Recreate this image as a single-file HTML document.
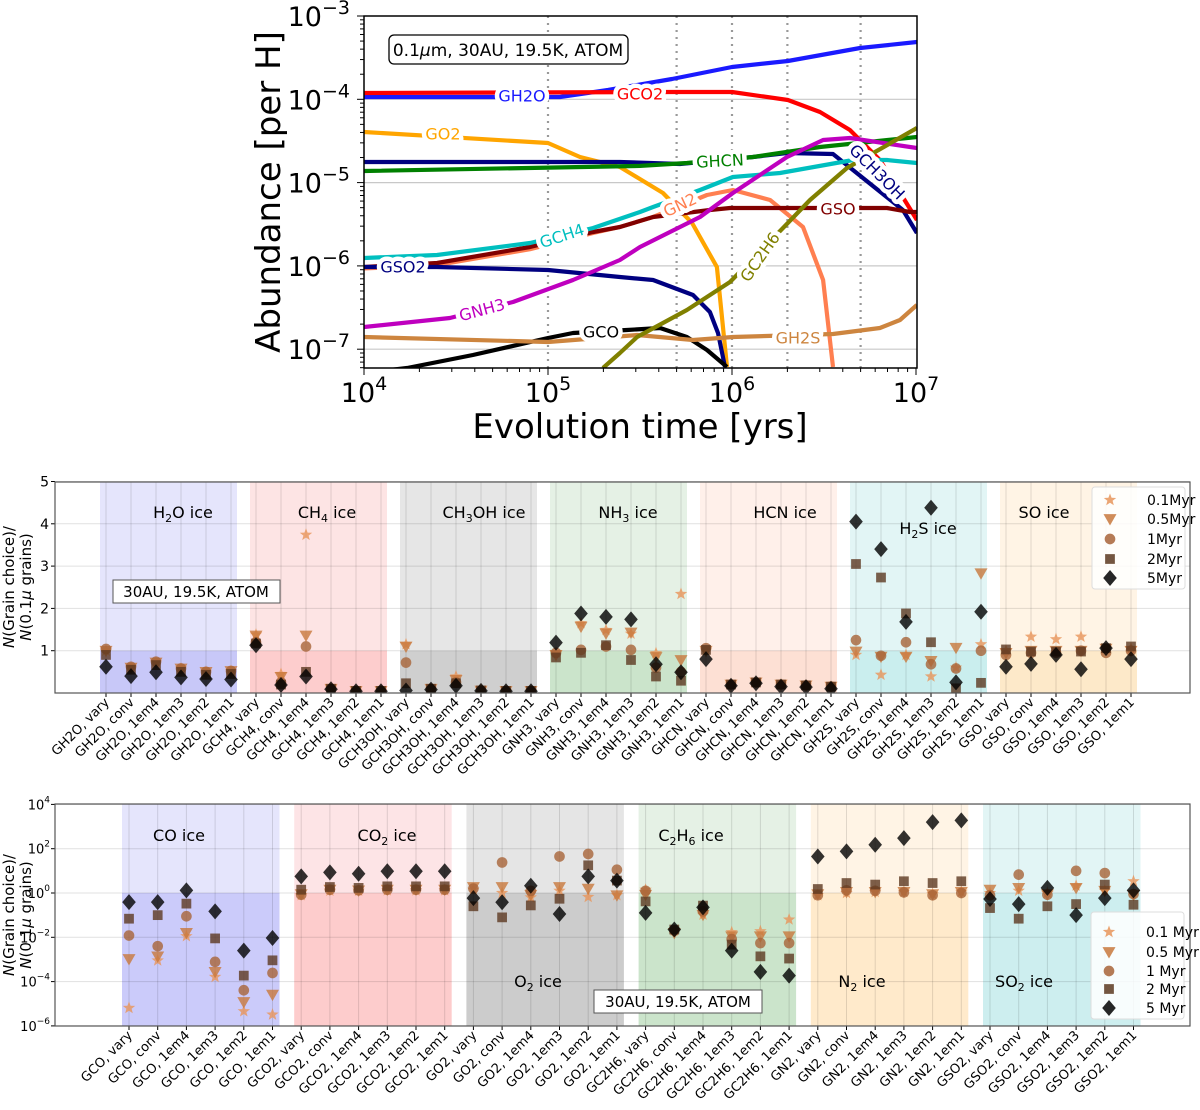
<!DOCTYPE html>
<html><head><meta charset="utf-8">
<style>
html,body{margin:0;padding:0;background:#fff;}
svg{display:block;font-family:"DejaVu Sans","Liberation Sans",sans-serif;}
</style></head>
<body>
<svg id="fig" width="1200" height="1110" viewBox="0 0 1200 1110" xmlns="http://www.w3.org/2000/svg">
<defs>
<clipPath id="topclip"><rect x="364" y="16" width="553" height="352"/></clipPath>
<clipPath id="midclip"><rect x="55" y="482" width="1135" height="211"/></clipPath>
<clipPath id="botclip"><rect x="55" y="804" width="1135" height="222"/></clipPath>
</defs>
<g id="topPanel"></g>
<g id="midPanel"></g>
<g id="botPanel"></g>
</svg>
<script>
// ================= TOP PANEL DATA (log10 time, log10 abundance) =================
const gh2oT=[4,5.065,5.326,5.674,6.0,6.304,6.696,7.005];
const gh2oA=[-3.972,-3.972,-3.888,-3.756,-3.612,-3.54,-3.384,-3.312];
const gco2T=[4,5.674,6.0,6.304,6.478,6.641,6.804,7.005];
const gco2A=[-3.924,-3.912,-3.912,-4.008,-4.152,-4.369,-4.729,-5.449];
const go2T=[4,5.0,5.174,5.391,5.625,5.783,5.918,5.973];
const go2A=[-4.393,-4.525,-4.693,-4.813,-5.125,-5.485,-6.013,-7.214];
const gch3ohT=[4,5.391,5.717,6.114,6.299,6.549,6.929,7.005];
const gch3ohA=[-4.753,-4.753,-4.777,-4.693,-4.645,-4.657,-5.329,-5.605];
const ghcnT=[4,5.5,5.755,6.114,6.478,7.005];
const ghcnA=[-4.861,-4.8,-4.765,-4.693,-4.573,-4.453];
const gn2T=[4,4.397,4.902,5.245,5.391,5.571,5.864,6.005,6.207,6.386,6.495,6.549];
const gn2A=[-6.03,-5.99,-5.8,-5.605,-5.533,-5.413,-5.149,-5.089,-5.209,-5.533,-6.169,-7.214];
const gsoT=[4,4.397,4.902,5.245,5.391,5.571,5.88,5.989,6.842,6.967,7.005];
const gsoA=[-6.013,-5.965,-5.773,-5.593,-5.533,-5.413,-5.329,-5.305,-5.305,-5.353,-5.353];
const gch4T=[4,4.397,4.902,5.245,5.5,5.571,5.826,6.005,6.261,6.658,6.842,7.005];
const gch4A=[-5.905,-5.869,-5.725,-5.545,-5.353,-5.293,-5.089,-4.933,-4.885,-4.729,-4.729,-4.765];
const gso2T=[4,4.397,5.0,5.391,5.571,5.788,5.88,5.924,5.962];
const gso2A=[-6.013,-6.013,-6.049,-6.133,-6.169,-6.349,-6.553,-6.805,-7.214];
const gnh3T=[4,4.467,4.81,5.136,5.391,5.5,5.826,6.005,6.299,6.495,6.641,7.005];
const gnh3A=[-6.733,-6.625,-6.433,-6.169,-5.929,-5.773,-5.413,-5.125,-4.693,-4.489,-4.465,-4.585];
const gcoT=[4,4.234,4.592,5.0,5.136,5.429,5.609,5.755,5.864,5.973];
const gcoA=[-7.286,-7.226,-7.07,-6.865,-6.805,-6.769,-6.745,-6.853,-7.01,-7.214];
const gh2sT=[4,5.0,5.484,5.788,6.005,6.549,6.804,6.913,7.005];
const gh2sA=[-6.853,-6.913,-6.829,-6.889,-6.853,-6.817,-6.745,-6.649,-6.469];
const gc2h6T=[5.299,5.391,5.484,5.755,5.989,6.277,6.424,6.625,7.005];
const gc2h6A=[-7.226,-7.046,-6.853,-6.529,-6.193,-5.545,-5.209,-4.825,-4.345];
const topSeriesNames=["GH2O","GCO2","GO2","GCH3OH","GHCN","GN2","GSO","GCH4","GSO2","GNH3","GCO","GH2S","GC2H6"];
const topSeriesT=[gh2oT,gco2T,go2T,gch3ohT,ghcnT,gn2T,gsoT,gch4T,gso2T,gnh3T,gcoT,gh2sT,gc2h6T];
const topSeriesA=[gh2oA,gco2A,go2A,gch3ohA,ghcnA,gn2A,gsoA,gch4A,gso2A,gnh3A,gcoA,gh2sA,gc2h6A];
const topColors=["#1a1aff","#ff0000","#ffa500","#000080","#008000","#ff7f50","#800000","#00bfbf","#000080","#bf00bf","#000000","#cd853f","#808000"];
const eventTimes=[1e5,5e5,1e6,2e6,5e6];
const topXTicks=[4,5,6,7];
const topYTicks=[-3,-4,-5,-6,-7];

// ================= MIDDLE PANEL DATA =================
const midSpecies=["GH2O","GCH4","GCH3OH","GNH3","GHCN","GH2S","GSO"];
const suffixes=["vary","conv","1em4","1em3","1em2","1em1"];
const mid01=[1.0,0.6,0.72,0.58,0.5,0.52, 1.38,0.45,3.74,0.12,0.05,0.05, 1.15,0.1,0.39,0.08,0.05,0.05, 0.95,1.65,1.49,1.4,0.94,2.34, 1.0,0.2,0.25,0.2,0.18,0.15, 0.9,0.43,0.9,0.39,0.6,1.15, 1.0,1.33,1.27,1.33,1.05,1.05];
const mid05=[1.0,0.6,0.72,0.58,0.5,0.52, 1.36,0.38,1.36,0.1,0.05,0.05, 1.1,0.1,0.31,0.06,0.05,0.05, 0.9,1.57,1.41,1.43,0.85,0.78, 1.0,0.2,0.25,0.2,0.18,0.15, 0.98,0.86,0.86,0.76,1.07,2.83, 0.95,1.0,1.0,1.0,1.05,1.0];
const mid1=[1.04,0.62,0.74,0.58,0.5,0.52, 1.2,0.25,1.1,0.1,0.05,0.05, 0.72,0.1,0.25,0.06,0.05,0.05, 0.95,1.02,1.1,1.02,0.6,0.5, 1.06,0.2,0.25,0.2,0.18,0.15, 1.25,0.88,1.2,0.68,0.58,1.0, 0.9,0.95,0.95,1.0,0.95,1.0];
const mid2=[0.9,0.55,0.66,0.5,0.43,0.45, 1.17,0.2,0.5,0.1,0.05,0.05, 0.23,0.1,0.23,0.06,0.05,0.05, 0.84,0.95,1.13,0.78,0.39,0.29, 1.02,0.2,0.25,0.2,0.18,0.15, 3.05,2.73,1.88,1.2,0.11,0.24, 1.03,0.98,0.98,0.98,1.06,1.1];
const mid5=[0.62,0.4,0.49,0.37,0.33,0.32, 1.13,0.19,0.39,0.09,0.04,0.04, 0.06,0.08,0.17,0.05,0.04,0.04, 1.19,1.88,1.8,1.74,0.68,0.49, 0.8,0.17,0.23,0.15,0.14,0.1, 4.05,3.4,1.68,4.38,0.25,1.92, 0.62,0.69,0.9,0.56,1.06,0.8];
const midYTicks=[1,2,3,4,5];

// ================= BOTTOM PANEL DATA (log10 ratio) =================
const botSpecies=["GCO","GCO2","GO2","GC2H6","GN2","GSO2"];
const bot01=[-5.19,-3.05,-1.95,-3.79,-5.34,-5.49, -0.1,0.1,0.1,0.12,0.12,0.12, 0.15,0.0,-0.2,0.1,-0.18,-0.1, 0.15,-1.7,-0.98,-1.77,-1.73,-1.2, -0.1,0.0,0.05,0.05,-0.05,0.05, 0.0,0.1,0.0,0.33,0.1,0.53];
const bot05=[-2.98,-2.86,-1.8,-3.56,-4.92,-4.59, -0.05,0.15,0.12,0.15,0.15,0.15, 0.27,0.27,-0.08,0.27,0.2,-0.1, -0.08,-1.8,-0.98,-1.95,-1.95,-1.95, -0.05,0.05,0.05,0.05,-0.05,0.05, 0.15,0.23,-0.05,0.23,0.1,-0.08];
const bot1=[-1.92,-2.4,-1.05,-3.11,-4.39,-3.61, -0.08,0.15,0.12,0.15,0.15,0.15, 0.2,1.38,0.1,1.65,1.76,1.05, 0.1,-1.7,-0.83,-2.08,-2.26,-2.26, -0.1,0.12,0.1,0.03,-0.1,0.0, -0.1,0.83,-0.08,1.0,0.9,-0.05];
const bot2=[-1.16,-1.0,-0.48,-2.05,-3.73,-3.04, 0.15,0.27,0.23,0.3,0.3,0.3, -0.6,-1.1,-0.56,-0.26,1.25,0.56, -0.38,-1.65,-0.57,-2.33,-2.86,-2.96, 0.18,0.45,0.38,0.53,0.45,0.53, -0.68,-1.16,-0.6,-0.5,0.38,-0.53];
const bot5=[-0.41,-0.41,0.12,-0.83,-2.6,-2.03, 0.75,0.93,0.87,0.98,0.98,0.98, -0.23,-0.42,0.33,-0.95,0.75,0.56, -0.9,-1.65,-0.65,-2.6,-3.56,-3.73, 1.65,1.88,2.18,2.48,3.2,3.28, -0.27,-0.5,0.23,-1.0,-0.23,0.12];
const botYTicks=[-6,-4,-2,0,2,4];

const NS="http://www.w3.org/2000/svg";
function mk(tag,attrs,parent){const e=document.createElementNS(NS,tag);for(const k in attrs)e.setAttribute(k,attrs[k]);if(parent)parent.appendChild(e);return e;}

// ================= TOP PANEL =================
const topG=document.getElementById('topPanel');
const tX=lt=>364+(lt-4)*184;
const tY=la=>16+(-3-la)*83.3;
topYTicks.forEach(v=>{if(v<-3){const g=mk('line',{x1:364,x2:917,y1:tY(v),y2:tY(v),stroke:'#c8c8c8','stroke-width':1.2},topG);

}});
eventTimes.forEach(t=>{const l=mk('line',{x1:tX(Math.log10(t)),x2:tX(Math.log10(t)),y1:16,y2:368,stroke:'#999','stroke-width':2.2,'stroke-dasharray':'2,5'},topG);

});
const tclip=mk('g',{'clip-path':'url(#topclip)'},topG);
topSeriesNames.forEach((nm,k)=>{
  const T=topSeriesT[k],A=topSeriesA[k];
  const d=T.map((t,i)=>(i?'L':'M')+tX(t).toFixed(1)+','+tY(A[i]).toFixed(1)).join(' ');
  const p=mk('path',{d:d,fill:'none',stroke:topColors[k],'stroke-width':4.2,'stroke-linejoin':'round'},tclip);
  
  
});
const topLabels=[["GH2O",522,96,0,"#1a1aff"],["GCO2",640,94,0,"#ff0000"],["GO2",443,134,0,"#ffa500"],["GHCN",720,161,-3,"#008000"],["GCH4",562,236,-18,"#00bfbf"],["GN2",680,205,-25,"#ff7f50"],["GSO",838,209,0,"#800000"],["GCH3OH",877,172,45,"#000080"],["GSO2",403,267,0,"#000080"],["GNH3",482,310,-15,"#bf00bf"],["GCO",601,332,0,"#000"],["GC2H6",760,257,-55,"#808000"],["GH2S",798,338,0,"#cd853f"]];
topLabels.forEach(l=>{
  const t=mk('text',{x:l[1],y:l[2],'text-anchor':'middle','dominant-baseline':'central','font-size':16,fill:l[4],stroke:'#fff','stroke-width':9,'paint-order':'stroke','stroke-linejoin':'round',transform:`rotate(${l[3]} ${l[1]} ${l[2]})`},topG);
  t.textContent=l[0];
  
  
});
const tf=mk('rect',{x:364,y:16,width:553,height:352,fill:'none',stroke:'#000','stroke-width':1.5},topG);


for(let dec=4;dec<7;dec++){for(let m=1;m<10;m++){const x=tX(dec+Math.log10(m));const len=m===1?7:4;
mk('line',{x1:x,x2:x,y1:368,y2:368+len,stroke:'#000','stroke-width':1},topG);}}
mk('line',{x1:tX(7),x2:tX(7),y1:368,y2:375,stroke:'#000','stroke-width':1},topG);
for(let dec=-8;dec<-3;dec++){for(let m=1;m<10;m++){const v=dec+Math.log10(m);if(v<-7.23||v>-3)continue;const y=tY(v);const len=m===1?7:4;
mk('line',{x1:364-len,x2:364,y1:y,y2:y,stroke:'#000','stroke-width':1},topG);}}
mk('line',{x1:357,x2:364,y1:tY(-3),y2:tY(-3),stroke:'#000','stroke-width':1},topG);
topXTicks.forEach(v=>{const t=mk('text',{x:tX(v),y:402,'text-anchor':'middle','font-size':27},topG);
t.innerHTML='10<tspan dy="-12" font-size="19">'+v+'</tspan>';

});
topYTicks.forEach(v=>{const t=mk('text',{x:350,y:tY(v)+10,'text-anchor':'end','font-size':27},topG);
t.innerHTML='10<tspan dy="-12" font-size="19">\u2212'+(-v)+'</tspan>';

});
const xt=mk('text',{x:640,y:438,'text-anchor':'middle','font-size':34},topG);xt.textContent='Evolution time [yrs]';


const yt=mk('text',{x:280,y:192,'text-anchor':'middle','font-size':34,transform:'rotate(-90 280 192)'},topG);yt.textContent='Abundance [per H]';


const bx=mk('rect',{x:389,y:35,width:239,height:29,rx:5,fill:'#fff',stroke:'#000','stroke-width':1.3},topG);


const bt=mk('text',{x:508,y:56,'text-anchor':'middle','font-size':17},topG);bt.innerHTML='0.1<tspan font-style="italic">μ</tspan>m, 30AU, 19.5K, ATOM';



// ================= MARKERS =================
const mColors=["#e8955a","#c8783c","#a86438","#5c3820","#000000"];
function markerPath(kind,x,y,s){
  if(kind===0){let d='';for(let i=0;i<10;i++){const r=i%2?s*0.42:s;const a=-Math.PI/2+i*Math.PI/5;d+=(i?'L':'M')+(x+r*Math.cos(a)).toFixed(1)+','+(y+r*Math.sin(a)).toFixed(1);}return d+'Z';}
  if(kind===1)return `M${x-s},${y-s*0.75}L${x+s},${y-s*0.75}L${x},${y+s}Z`;
  if(kind===2)return `M${x-s*0.82},${y}a${s*0.82},${s*0.82} 0 1,0 ${s*1.64},0a${s*0.82},${s*0.82} 0 1,0 ${-s*1.64},0Z`;
  if(kind===3)return `M${x-s*0.75},${y-s*0.75}h${s*1.5}v${s*1.5}h${-s*1.5}Z`;
  return `M${x},${y-s}L${x+s*0.85},${y}L${x},${y+s}L${x-s*0.85},${y}Z`;
}
const SUB=n=>'<tspan dy="4" font-size="11">'+n+'</tspan><tspan dy="-4">';

// ================= MIDDLE PANEL =================
const midG=document.getElementById('midPanel');
const mX=i=>106+25*i;
const mY=v=>693-v*42.3;
const midBands=[["#e5e5fc","#c8c8f8"],["#fde4e4","#fdcdcd"],["#e6e6e6","#cfcfcf"],["#e5f1e5","#cbe4cb"],["#fff0ea","#fde0d4"],["#e2f5f5","#caeeee"],["#fff4e5","#fde9c9"]];
midSpecies.forEach((s,g)=>{
  const x0=mX(g*6)-6,x1=mX(g*6+5)+6;
  const a=mk('rect',{x:x0,y:482,width:x1-x0,height:mY(1)-482,fill:midBands[g][0]},midG);
  
  
  const b=mk('rect',{x:x0,y:mY(1),width:x1-x0,height:693-mY(1),fill:midBands[g][1]},midG);
  
  
});
midYTicks.forEach(v=>{mk('line',{x1:55,x2:1190,y1:mY(v),y2:mY(v),stroke:'#000','stroke-opacity':0.12,'stroke-width':1},midG);
const t=mk('text',{x:49,y:mY(v)+5,'text-anchor':'end','font-size':14},midG);t.textContent=v;


mk('line',{x1:51,x2:55,y1:mY(v),y2:mY(v),stroke:'#000'},midG);});
const midCats=[];midSpecies.forEach(s=>suffixes.forEach(f=>midCats.push(s+', '+f)));
midCats.forEach((c,i)=>{mk('line',{x1:mX(i),x2:mX(i),y1:482,y2:693,stroke:'#000','stroke-opacity':0.12},midG);
mk('line',{x1:mX(i),x2:mX(i),y1:693,y2:697,stroke:'#000'},midG);
const t=mk('text',{x:mX(i)+4,y:703,'text-anchor':'end','font-size':13,transform:`rotate(-45 ${mX(i)+4} 703)`},midG);t.textContent=c;

});
const midGroupLabels=[['H'+SUB(2)+'O ice</tspan>',183,512],['CH'+SUB(4)+' ice</tspan>',327,512],['CH'+SUB(3)+'OH ice</tspan>',484,512],['NH'+SUB(3)+' ice</tspan>',628,512],['HCN ice',785,512],['H'+SUB(2)+'S ice</tspan>',928,528],['SO ice',1044,512]];
midGroupLabels.forEach(l=>{const t=mk('text',{x:l[1],y:l[2]+6,'text-anchor':'middle','font-size':16},midG);t.innerHTML=l[0];

});
const midSeries=[mid01,mid05,mid1,mid2,mid5];
const mclip=mk('g',{'clip-path':'url(#midclip)'},midG);
midSeries.forEach((arr,k)=>arr.forEach((v,i)=>{
  const p=mk('path',{d:markerPath(k,mX(i),mY(v),k===4?8:6.5),fill:mColors[k],'fill-opacity':0.8},mclip);
  
  
}));
const mfr=mk('rect',{x:55,y:482,width:1135,height:211,fill:'none',stroke:'#555','stroke-width':1.2},midG);


const mb=mk('rect',{x:113,y:580,width:167,height:23,fill:'#fff',stroke:'#555'},midG);


const mbt=mk('text',{x:196,y:597,'text-anchor':'middle','font-size':15},midG);mbt.textContent='30AU, 19.5K, ATOM';


function yLabel(parent,cy){
  const t1=mk('text',{x:14,y:cy,'text-anchor':'middle','font-size':15,transform:`rotate(-90 14 ${cy})`},parent);
  t1.innerHTML='<tspan font-style="italic">N</tspan>(Grain choice)/';
  
  
  const t2=mk('text',{x:31,y:cy,'text-anchor':'middle','font-size':15,transform:`rotate(-90 31 ${cy})`},parent);
  t2.innerHTML='<tspan font-style="italic">N</tspan>(0.1<tspan font-style="italic">μ</tspan> grains)';
  
  
}
yLabel(midG,587);
function legend(parent,x,y,w,h,names,ys){
  const r=mk('rect',{x:x,y:y,width:w,height:h,rx:3,fill:'#fff','fill-opacity':0.85,stroke:'#ddd'},parent);
  
  
  names.forEach((n,k)=>{
    const p=mk('path',{d:markerPath(k,x+18,ys[k],k===4?8:6.5),fill:mColors[k],'fill-opacity':0.85},parent);
    
    
    const t=mk('text',{x:x+55,y:ys[k]+5,'font-size':14},parent);t.textContent=n;
    
    
  });
}
legend(midG,1092,487,93,102,["0.1Myr","0.5Myr","1Myr","2Myr","5Myr"],[500,519,539,559,578]);

// ================= BOTTOM PANEL =================
const botG=document.getElementById('botPanel');
const bX=i=>129+28.7*i;
const bY=lg=>893-lg*22.15;
const botBands=[["#e5e5fc","#cbcbfa"],["#fde4e6","#fdcccc"],["#e5e5e5","#cccccc"],["#e5f1e5","#cbe4cb"],["#fff4e5","#ffeacb"],["#e2f5f5","#cdeeef"]];
botSpecies.forEach((s,g)=>{
  const x0=bX(g*6)-7,x1=bX(g*6+5)+7;
  const a=mk('rect',{x:x0,y:804,width:x1-x0,height:bY(0)-804,fill:botBands[g][0]},botG);
  
  
  const b=mk('rect',{x:x0,y:bY(0),width:x1-x0,height:1026-bY(0),fill:botBands[g][1]},botG);
  
  
});
botYTicks.forEach(v=>{mk('line',{x1:55,x2:1190,y1:bY(v),y2:bY(v),stroke:'#000','stroke-opacity':0.12},botG);
mk('line',{x1:51,x2:55,y1:bY(v),y2:bY(v),stroke:'#000'},botG);
const t=mk('text',{x:50,y:bY(v)+5,'text-anchor':'end','font-size':13},botG);
t.innerHTML='10<tspan dy="-7" font-size="9">'+(v<0?'\u2212'+(-v):v)+'</tspan>';

});
const botCats=[];botSpecies.forEach(s=>suffixes.forEach(f=>botCats.push(s+', '+f)));
botCats.forEach((c,i)=>{mk('line',{x1:bX(i),x2:bX(i),y1:804,y2:1026,stroke:'#000','stroke-opacity':0.12},botG);
mk('line',{x1:bX(i),x2:bX(i),y1:1026,y2:1030,stroke:'#000'},botG);
const t=mk('text',{x:bX(i)+4,y:1036,'text-anchor':'end','font-size':13,transform:`rotate(-45 ${bX(i)+4} 1036)`},botG);t.textContent=c;

});
const botGroupLabels=[['CO ice',179,835],['CO'+SUB(2)+' ice</tspan>',387,835],['O'+SUB(2)+' ice</tspan>',538,981],['C'+SUB(2)+'H'+SUB(6)+' ice</tspan></tspan>',691,835],['N'+SUB(2)+' ice</tspan>',862,981],['SO'+SUB(2)+' ice</tspan>',1024,981]];
botGroupLabels.forEach(l=>{const t=mk('text',{x:l[1],y:l[2]+6,'text-anchor':'middle','font-size':16},botG);t.innerHTML=l[0];

});
const botSeries=[bot01,bot05,bot1,bot2,bot5];
const bclip=mk('g',{'clip-path':'url(#botclip)'},botG);
botSeries.forEach((arr,k)=>arr.forEach((v,i)=>{
  const p=mk('path',{d:markerPath(k,bX(i),bY(v),k===4?8:6.5),fill:mColors[k],'fill-opacity':0.8},bclip);
  
  
}));
const bfr=mk('rect',{x:55,y:804,width:1135,height:222,fill:'none',stroke:'#555','stroke-width':1.2},botG);


const bb=mk('rect',{x:594,y:990,width:168,height:23,fill:'#fff',stroke:'#555'},botG);


const bbt=mk('text',{x:678,y:1007,'text-anchor':'middle','font-size':15},botG);bbt.textContent='30AU, 19.5K, ATOM';


yLabel(botG,915);
legend(botG,1091,912,93,107,["0.1 Myr","0.5 Myr","1 Myr","2 Myr","5 Myr"],[932,952,971,989,1008]);
</script>
</body></html>
